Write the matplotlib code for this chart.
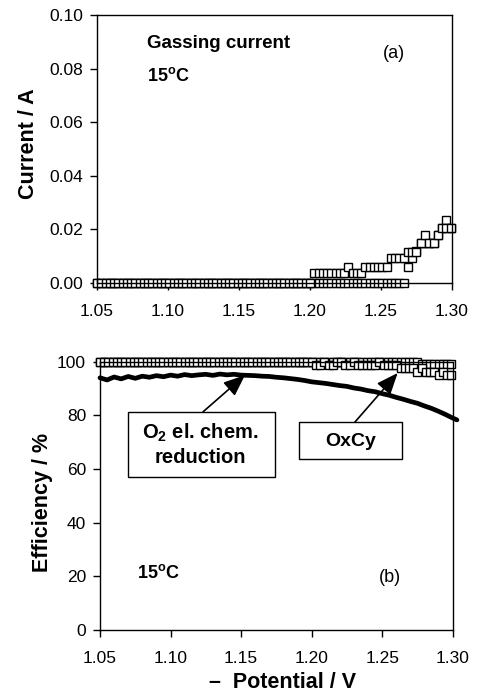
import matplotlib
matplotlib.use("Agg")
import matplotlib.pyplot as plt
from matplotlib.patches import Rectangle

plt.rcParams['font.family'] = ['Liberation Sans', 'DejaVu Sans']
plt.rcParams['mathtext.fontset'] = 'custom'
plt.rcParams['mathtext.rm'] = 'Liberation Sans'
plt.rcParams['mathtext.bf'] = 'Liberation Sans:bold'

# ---------------- data ----------------
sweep_potential = [
    1.050, 1.053, 1.056, 1.059, 1.062, 1.065, 1.068, 1.071, 1.074, 1.077,
    1.080, 1.083, 1.086, 1.089, 1.092, 1.095, 1.098, 1.101, 1.104, 1.107,
    1.110, 1.113, 1.116, 1.119, 1.122, 1.125, 1.128, 1.131, 1.134, 1.137,
    1.140, 1.143, 1.146, 1.149, 1.152, 1.155, 1.158, 1.161, 1.164, 1.167,
    1.170, 1.173, 1.176, 1.179, 1.182, 1.185, 1.188, 1.191, 1.194, 1.197,
    1.200, 1.203, 1.206, 1.209, 1.212, 1.215, 1.218, 1.221, 1.224, 1.227,
    1.230, 1.233, 1.236, 1.239, 1.242, 1.245, 1.248, 1.251, 1.254, 1.257,
    1.260, 1.263, 1.266, 1.269, 1.272, 1.275, 1.278, 1.281, 1.284, 1.287,
    1.290, 1.293, 1.296, 1.299,
]

current_forward = [
    0, 0, 0, 0, 0, 0, 0, 0, 0, 0,
    0, 0, 0, 0, 0, 0, 0, 0, 0, 0,
    0, 0, 0, 0, 0, 0, 0, 0, 0, 0,
    0, 0, 0, 0, 0, 0, 0, 0, 0, 0,
    0, 0, 0, 0, 0, 0, 0, 0, 0, 0,
    0, 0, 0, 0, 0, 0, 0, 0, 0, 0,
    0, 0, 0, 0, 0, 0, 0, 0, 0, 0,
    0, 0, 0, 0.0060, 0.0093, 0.0120, 0.0150, 0.0150, 0.0150, 0.0150,
    0.0180, 0.0205, 0.0235, 0.0205,
]

current_reverse = [
    0, 0, 0, 0, 0, 0, 0, 0, 0, 0,
    0, 0, 0, 0, 0, 0, 0, 0, 0, 0,
    0, 0, 0, 0, 0, 0, 0, 0, 0, 0,
    0, 0, 0, 0, 0, 0, 0, 0, 0, 0,
    0, 0, 0, 0, 0, 0, 0, 0, 0, 0,
    0, 0.0037, 0.0037, 0.0037, 0.0037, 0.0037, 0.0037, 0.0037, 0.0037, 0.0060,
    0.0037, 0.0037, 0.0037, 0.0060, 0.0060, 0.0060, 0.0060, 0.0060, 0.0060, 0.0093,
    0.0093, 0.0093, 0.0093, 0.0117, 0.0117, 0.0117, 0.0150, 0.0180, 0.0150, 0.0150,
    0.0180, 0.0205, 0.0205, 0.0205,
]

oxcy_upper = [
    100, 100, 100, 100, 100, 100, 100, 100, 100, 100,
    100, 100, 100, 100, 100, 100, 100, 100, 100, 100,
    100, 100, 100, 100, 100, 100, 100, 100, 100, 100,
    100, 100, 100, 100, 100, 100, 100, 100, 100, 100,
    100, 100, 100, 100, 100, 100, 100, 100, 100, 100,
    100, 100, 100, 100, 100, 100, 100, 100, 100, 100,
    100, 100, 100, 100, 100, 100, 100, 100, 100, 100,
    100, 100, 100, 100, 100, 100, 99, 99, 99, 99,
    99, 99, 99, 99,
]

oxcy_lower = [
    100, 100, 100, 100, 100, 100, 100, 100, 100, 100,
    100, 100, 100, 100, 100, 100, 100, 100, 100, 100,
    100, 100, 100, 100, 100, 100, 100, 100, 100, 100,
    100, 100, 100, 100, 100, 100, 100, 100, 100, 100,
    100, 100, 100, 100, 100, 100, 100, 100, 100, 100,
    100, 98.8, 98.8, 100, 98.8, 98.8, 100, 100, 98.8, 98.8,
    100, 98.8, 98.8, 98.8, 98.8, 98.8, 100, 98.8, 98.8, 98.8,
    98.8, 97.6, 97.6, 97.6, 97.6, 96.3, 97.6, 96.3, 96.3, 96.3,
    95.0, 96.3, 95.0, 95.0,
]

o2_potential = [
    1.050, 1.055, 1.060, 1.065, 1.070, 1.075, 1.080, 1.085, 1.090, 1.095,
    1.100, 1.105, 1.110, 1.115, 1.120, 1.125, 1.130, 1.135, 1.140, 1.145,
    1.150, 1.155, 1.160, 1.165, 1.170, 1.175, 1.180, 1.185, 1.190, 1.195,
    1.200, 1.205, 1.210, 1.215, 1.220, 1.225, 1.230, 1.235, 1.240, 1.245,
    1.250, 1.255, 1.260, 1.265, 1.270, 1.275, 1.280, 1.285, 1.290, 1.295,
    1.300, 1.303,
]
o2_efficiency = [
    94.0, 93.2, 94.3, 93.6, 94.5, 93.8, 94.6, 94.2, 94.8, 94.4,
    95.0, 94.6, 95.2, 94.8, 95.1, 95.3, 94.9, 95.4, 95.1, 95.3,
    95.0, 94.9, 94.8, 94.6, 94.5, 94.2, 94.0, 93.7, 93.4, 93.0,
    92.5, 92.2, 91.9, 91.5, 91.1, 90.8, 90.2, 89.8, 89.2, 88.8,
    88.1, 87.5, 86.7, 86.0, 85.2, 84.5, 83.5, 82.6, 81.5, 80.3,
    79.0, 78.3,
]

x_ticks = [1.05, 1.10, 1.15, 1.20, 1.25, 1.30]
current_ticks = [0.00, 0.02, 0.04, 0.06, 0.08, 0.10]
eff_ticks = [0, 20, 40, 60, 80, 100]

# ---------------- figure ----------------
fig = plt.figure(figsize=(4.8, 6.92), dpi=100)
ax1 = fig.add_axes([97/480, 1-283/692, 355/480, 268/692])
ax2 = fig.add_axes([100/480, 1-630/692, 352.7/480, 268.3/692])

sq = dict(linestyle='none', marker='s', markersize=5.8, markerfacecolor='white',
          markeredgecolor='black', markeredgewidth=1.0, clip_on=False)

LABEL_FS = 15.5

ax1.plot(sweep_potential, current_forward, **sq)
ax1.plot(sweep_potential, current_reverse, **sq)
ax1.set_xlim(1.05, 1.30)
ax1.set_ylim(0, 0.10)
ax1.set_xticks(x_ticks)
ax1.set_xticklabels([f"{v:.2f}" for v in x_ticks])
ax1.set_yticks(current_ticks)
ax1.set_yticklabels([f"{v:.2f}" for v in current_ticks])
ax1.set_ylabel("Current / A", fontsize=LABEL_FS, fontweight='bold')
ax1.yaxis.label.set_verticalalignment('center')
ax1.yaxis.set_label_coords(-0.194, 0.52)
ax1.text(0.141, 0.892, "Gassing current", transform=ax1.transAxes,
         fontsize=13.5, fontweight='bold', va='center', ha='left')
ax1.text(0.141, 0.772, r"15$^{\mathbf{o}}$C", transform=ax1.transAxes,
         fontsize=13, fontweight='bold', va='center', ha='left')
ax1.text(0.837, 0.858, "(a)", transform=ax1.transAxes,
         fontsize=13, va='center', ha='center')

ax2.plot(o2_potential, o2_efficiency, color='black', lw=3.4, clip_on=False,
         solid_capstyle='round')
ax2.plot(sweep_potential, oxcy_upper, **sq)
ax2.plot(sweep_potential, oxcy_lower, **sq)
ax2.set_xlim(1.05, 1.30)
ax2.set_ylim(0, 100)
ax2.set_xticks(x_ticks)
ax2.set_xticklabels([f"{v:.2f}" for v in x_ticks])
ax2.set_yticks(eff_ticks)
ax2.set_ylabel("Efficiency / %", fontsize=LABEL_FS, fontweight='bold')
ax2.yaxis.label.set_verticalalignment('center')
ax2.yaxis.set_label_coords(-0.162, 0.477)
ax2.set_xlabel("\u2013  Potential / V", fontsize=LABEL_FS, fontweight='bold')
ax2.xaxis.label.set_verticalalignment('center')
ax2.xaxis.set_label_coords(0.519, -0.194)
ax2.text(0.105, 0.212, r"15$^{\mathbf{o}}$C", transform=ax2.transAxes,
         fontsize=13, fontweight='bold', va='center', ha='left')
ax2.text(0.822, 0.194, "(b)", transform=ax2.transAxes,
         fontsize=13, va='center', ha='center')

# annotation boxes
ax2.add_patch(Rectangle((0.079, 0.570), 0.417, 0.2425, transform=ax2.transAxes,
                        facecolor='white', edgecolor='black', lw=1.0, zorder=4))
ax2.text(0.285, 0.693, r"O$_{\mathbf{2}}$ el. chem." + "\nreduction",
         transform=ax2.transAxes,
         fontsize=14.5, fontweight='bold', ha='center', va='center',
         linespacing=1.25, zorder=5)
ax2.add_patch(Rectangle((0.564, 0.637), 0.292, 0.138, transform=ax2.transAxes,
                        facecolor='white', edgecolor='black', lw=1.0, zorder=4))
ax2.text(0.712, 0.704, "OxCy", transform=ax2.transAxes,
         fontsize=14, fontweight='bold', ha='center', va='center', zorder=5)

arrow = dict(arrowstyle='-|>,head_length=1.1,head_width=0.45', color='black',
             lw=1.2, mutation_scale=12, shrinkA=0, shrinkB=0)
ax2.annotate('', xy=(1.1528, 95.0), xytext=(1.123, 81.3), arrowprops=arrow, zorder=6)
ax2.annotate('', xy=(1.261, 95.8), xytext=(1.2307, 77.5), arrowprops=arrow, zorder=6)

for ax in (ax1, ax2):
    ax.tick_params(direction='out', length=5, width=1, labelsize=12.5, pad=5,
                   colors='black')
    ax.tick_params(axis='x', pad=10)
    for s in ax.spines.values():
        s.set_linewidth(1.0)

fig.savefig("out.png", dpi=100)
